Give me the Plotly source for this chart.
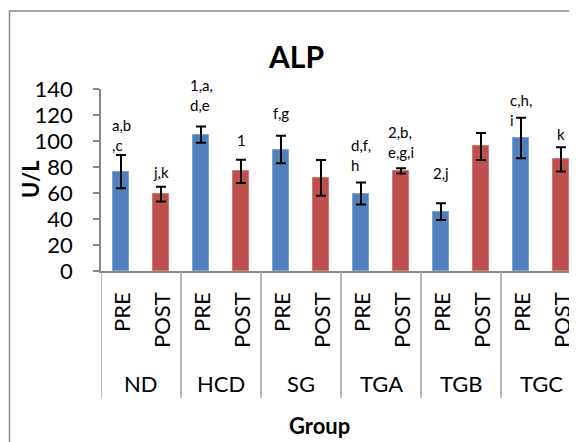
import plotly.graph_objects as go

# ---- data ----
groups = ["ND", "HCD", "SG", "TGA", "TGB", "TGC"]
phases = ["PRE", "POST"]
pre_mean = [76.4, 104.9, 93.4, 59.6, 45.7, 102.3]
pre_sd = [12.8, 6.2, 10.6, 8.4, 6.5, 15.6]
post_mean = [59.1, 76.6, 71.6, 77.0, 95.8, 85.8]
post_sd = [5.7, 9.0, 13.7, 2.0, 10.4, 9.3]
pre_labels = ["a,b<br>,c", "1,a,<br>d,e", "f,g", "d,f,<br>h", "2,j", "c,h,<br>i"]
post_labels = ["j,k", "1", "", "2,b,<br>e,g,i", "", "k"]
y_ticks = [0, 20, 40, 60, 80, 100, 120, 140]

# ---- label offsets (px above error bar top, to bottom line centre) ----
pre_gap = [10, 21.7, 23, 17.7, 30, -2.3]
post_gap = [15, 20, 0, 16.3, 0, 13.7]

FONT = "Lato"
BLUE = "#4F81BD"
RED = "#C0504D"
AXIS = "#868686"

# page body has an 8px margin: work in window pixels and convert
OFF = 8
W, H = 577 - OFF, 442 - OFF
L = 101 - OFF
T = 89 - OFF
B = H - (271 - OFF)
R = 0
PH = H - T - B
PW = W - L - R

pre_x = [2 * i for i in range(len(groups))]
post_x = [2 * i + 1 for i in range(len(groups))]

fig = go.Figure()
fig.add_trace(go.Bar(
    x=pre_x, y=pre_mean, width=0.4, name="PRE",
    marker=dict(color=BLUE, line=dict(color="#7DA2D1", width=1)),
    error_y=dict(type="data", array=pre_sd, visible=True, color="black", thickness=2, width=5),
))
fig.add_trace(go.Bar(
    x=post_x, y=post_mean, width=0.4, name="POST",
    marker=dict(color=RED, line=dict(color="#CE7876", width=1)),
    error_y=dict(type="data", array=post_sd, visible=True, color="black", thickness=2, width=5),
))

ann = []
LINE = 15 * 1.3


def add_label(x, top, text, gap):
    if not text:
        return
    n = text.count("<br>") + 1
    ann.append(dict(
        x=x, y=top, xref="x", yref="y", text=text, showarrow=False,
        xanchor="center", yanchor="middle", align="left",
        yshift=gap + (n - 1) * LINE / 2,
        font=dict(family=FONT, size=15, color="black"),
    ))


for i in range(len(groups)):
    add_label(pre_x[i], pre_mean[i] + pre_sd[i], pre_labels[i], pre_gap[i])
    add_label(post_x[i], post_mean[i] + post_sd[i], post_labels[i], post_gap[i])


def py(p):
    # window pixel y -> paper y
    return (H - B - (p - OFF)) / PH


def px(p):
    # window pixel x -> paper x
    return (p - OFF - L) / PW


# category labels
for i, g in enumerate(groups):
    for j, ph in enumerate(phases):
        ann.append(dict(
            x=2 * i + j, y=py(290), xref="x", yref="paper", text=ph,
            showarrow=False, textangle=-90, xanchor="center", yanchor="top",
            font=dict(family=FONT, size=22, color="black"),
        ))
    ann.append(dict(
        x=2 * i + 0.5, y=py(383), xref="x", yref="paper", text=g,
        showarrow=False, xanchor="center", yanchor="middle",
        font=dict(family=FONT, size=22, color="black"),
    ))

# titles
ann.append(dict(x=px(295.5), y=py(56), xref="paper", yref="paper", text="<b>ALP</b>",
                showarrow=False, xanchor="center", yanchor="middle",
                font=dict(family=FONT, size=30, color="black")))
ann.append(dict(x=px(30), y=py(179), xref="paper", yref="paper", text="<b>U/L</b>",
                showarrow=False, xanchor="center", yanchor="middle", textangle=-90,
                font=dict(family=FONT, size=22, color="black")))
ann.append(dict(x=px(319), y=py(425), xref="paper", yref="paper", text="<b>Group</b>",
                showarrow=False, xanchor="center", yanchor="middle",
                font=dict(family=FONT, size=22, color="black")))

shapes = []
for i in range(len(groups)):
    shapes.append(dict(type="line", xref="x", yref="paper",
                       x0=2 * i - 0.5, x1=2 * i - 0.5, y0=0, y1=py(398),
                       line=dict(color="#A0A0A0", width=1.5)))
# chart border
shapes.append(dict(type="rect", xref="paper", yref="paper",
                   x0=px(9.5), x1=px(700), y0=py(700), y1=py(11),
                   line=dict(color="#888888", width=1.5), fillcolor="rgba(0,0,0,0)"))

fig.update_layout(
    width=W, height=H,
    margin=dict(l=L, r=R, t=T, b=B, pad=0),
    paper_bgcolor="white", plot_bgcolor="white",
    showlegend=False, bargap=0,
    annotations=ann, shapes=shapes,
    font=dict(family=FONT, color="black"),
    xaxis=dict(range=[-0.5, 11.4], showticklabels=False, showgrid=False, zeroline=False,
               showline=True, linecolor=AXIS, linewidth=1.5, ticks=""),
    yaxis=dict(range=[0, 140], tickvals=y_ticks, showgrid=False, zeroline=False,
               showline=True, linecolor=AXIS, linewidth=1.5,
               ticks="outside", ticklen=6, tickcolor=AXIS, tickwidth=1.5,
               ticklabelstandoff=16,
               tickfont=dict(family=FONT, size=22, color="black")),
)

fig.write_html("out.html")
